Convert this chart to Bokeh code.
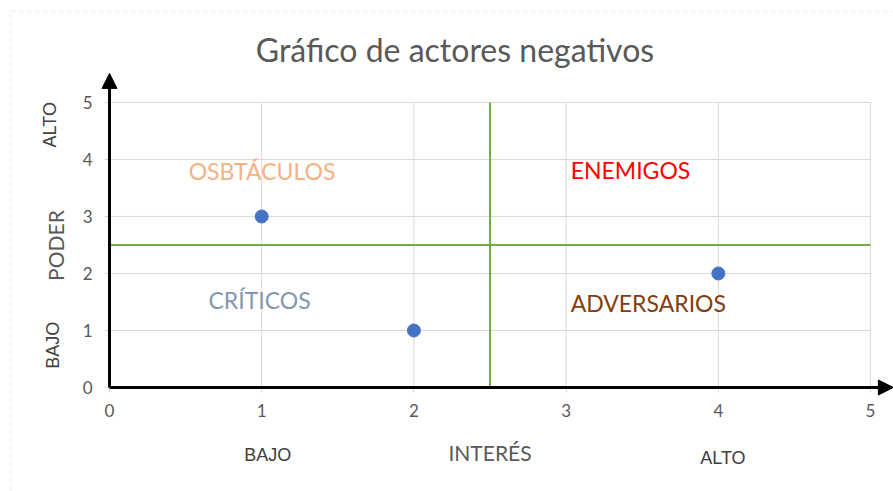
import math
from bokeh.plotting import figure
from bokeh.models import (Range1d, FixedTicker, Label, Arrow, NormalHead, BoxAnnotation)
from bokeh.embed import file_html
from bokeh.resources import INLINE

# ---- data ----
interes = [1, 2, 4]
poder = [3, 1, 2]
ticks = [0, 1, 2, 3, 4, 5]
threshold = 2.5
title_text = "Gráfico de actores negativos"
quadrant_names = ["OSBTÁCULOS", "ENEMIGOS", "CRÍTICOS", "ADVERSARIOS"]
quadrant_x = [0.52, 3.03, 0.65, 3.03]
quadrant_y = [3.8, 3.82, 1.53, 1.49]
quadrant_colors = ["#F4B183", "#FF0000", "#8497B0", "#843C0C"]

W, H = 893, 491
lo, hi = min(ticks), max(ticks)

p = figure(width=W, height=H, output_backend="svg", toolbar_location=None,
           x_range=Range1d(-0.7162, 5.151), y_range=Range1d(-1.8246, 6.789),
           min_border=0)
p.title.visible = False
p.outline_line_color = None
p.background_fill_color = "white"
p.border_fill_color = "white"
p.xgrid.visible = False
p.ygrid.visible = False

for ax in (p.xaxis[0], p.yaxis[0]):
    ax.fixed_location = 0
    ax.bounds = (lo, hi)
    ax.ticker = FixedTicker(ticks=ticks)
    ax.axis_line_color = None
    ax.major_tick_line_color = "#D9D9D9"
    ax.major_tick_out = 5
    ax.major_tick_in = 0
    ax.minor_tick_line_color = None
    ax.major_label_text_font = "Lato"
    ax.major_label_text_font_size = "17px"
    ax.major_label_text_color = "#595959"
p.xaxis.major_label_standoff = 12
p.yaxis.major_label_standoff = 12

# gridlines (bounded to the 0..5 region)
p.segment(x0=ticks, y0=[lo] * len(ticks), x1=ticks, y1=[hi] * len(ticks),
          line_color="#D9D9D9", line_width=1)
p.segment(x0=[lo] * len(ticks), y0=ticks, x1=[hi] * len(ticks), y1=ticks,
          line_color="#D9D9D9", line_width=1)

# quadrant dividers
p.segment(x0=[threshold, lo], y0=[lo, threshold], x1=[threshold, hi], y1=[hi, threshold],
          line_color="#70AD47", line_width=2)

# points
p.scatter(interes, poder, size=13, color="#4472C4")

# axis arrows
p.add_layout(Arrow(end=NormalHead(size=15, fill_color="black", line_color="black"),
                   x_start=0, y_start=0, x_end=0, y_end=5.51,
                   line_width=3, line_color="black"))
p.add_layout(Arrow(end=NormalHead(size=15, fill_color="black", line_color="black"),
                   x_start=0, y_start=0, x_end=5.15, y_end=0,
                   line_width=3, line_color="black"))

# quadrant labels
for name, qx, qy, c in zip(quadrant_names, quadrant_x, quadrant_y, quadrant_colors):
    p.add_layout(Label(x=qx, y=qy, text=name, text_color=c, text_font="Lato",
                       text_font_size="23px", text_baseline="middle", text_align="left"))

# title
p.add_layout(Label(x=2.27, y=5.93, text=title_text, text_color="#595959", text_font="Lato",
                   text_font_size="32px", text_baseline="middle", text_align="center"))

# axis titles
p.add_layout(Label(x=-0.355, y=2.49, text="PODER", angle=math.pi / 2, text_color="#595959",
                   text_font="Lato", text_font_size="21px",
                   text_baseline="middle", text_align="center"))
p.add_layout(Label(x=2.5, y=-1.14, text="INTERÉS", text_color="#595959",
                   text_font="Lato", text_font_size="21px",
                   text_baseline="middle", text_align="center"))
for txt, lx, ly, ang in [("ALTO", -0.39, 4.61, math.pi / 2), ("BAJO", -0.37, 0.74, math.pi / 2),
                         ("BAJO", 1.04, -1.19, 0), ("ALTO", 4.03, -1.23, 0)]:
    p.add_layout(Label(x=lx, y=ly, text=txt, angle=ang, text_color="#404040",
                       text_font="Liberation Sans", text_font_size="18px",
                       text_baseline="middle", text_align="center"))

# dashed chart-area border
p.add_layout(BoxAnnotation(left=-0.65, right=5.3, top=6.596, bottom=-2.0,
                           fill_color=None, line_color="#D0D0D0", line_dash="5 3",
                           line_width=1.5))

open("out.html", "w").write(file_html(p, INLINE))
